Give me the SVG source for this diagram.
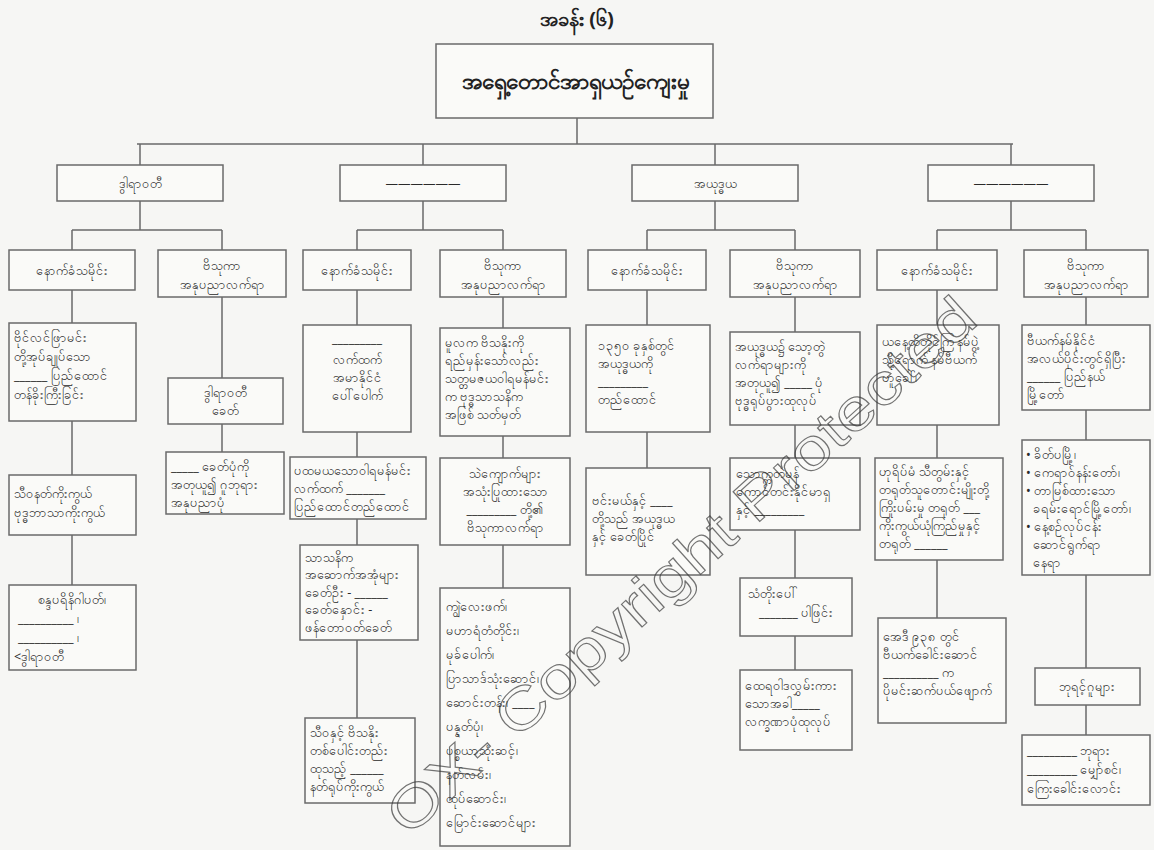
<svg xmlns="http://www.w3.org/2000/svg" width="1154" height="850" viewBox="0 0 1154 850">
<style>
.bg{fill:#f6f6f4}
.box{fill:#fafaf8;stroke:#6a6a6a;stroke-width:1.5}
.c{fill:none;stroke:#6a6a6a;stroke-width:1.5}
.t{font-family:"Noto Sans","DejaVu Sans",sans-serif;font-size:12.5px;fill:#2a2a2a;text-anchor:middle}
.l{text-anchor:start}
.ttl{font-family:"Noto Sans","DejaVu Sans",sans-serif;font-size:20px;font-weight:bold;fill:#222;text-anchor:middle}
.root{font-family:"Noto Sans","DejaVu Sans",sans-serif;font-size:22.5px;font-weight:bold;fill:#222;text-anchor:middle}
.wm{font-family:"Liberation Sans",sans-serif;font-size:58px;fill:none;stroke:#3a3a3a;stroke-width:1.1;opacity:0.7}
</style>
<rect class="bg" x="0" y="0" width="1154" height="850"/>
<text class="ttl" x="577" y="26">အခန်း (၆)</text>

<g id="connectors">
<path class="c" d="M577,118V144M137,144H1013M140,144V165M423,144V165M715,144V165M1011,144V165"/>
<path class="c" d="M140,201V230M72,230H222M72,230V250M222,230V250"/>
<path class="c" d="M423,201V230M357,230H503M357,230V250M503,230V250"/>
<path class="c" d="M715,201V230M647,230H795M647,230V250M795,230V250"/>
<path class="c" d="M1011,201V230M937,230H1086M937,230V250M1086,230V250"/>
<path class="c" d="M72,290V323M72,421V475M72,535V585"/>
<path class="c" d="M222,297V378M222,424V452"/>
<path class="c" d="M357,290V325M357,432V457M357,519V545M357,640V718"/>
<path class="c" d="M503,297V328M503,436V458M503,545V588"/>
<path class="c" d="M647,290V325M647,432V468"/>
<path class="c" d="M795,297V332M795,425V458M795,530V578M795,636V670"/>
<path class="c" d="M937,290V325M937,425V458M937,560V618"/>
<path class="c" d="M1086,297V325M1086,410V440M1086,575V668M1086,705V735"/>
</g>

<g id="root"><rect class="box" x="436" y="44" width="277" height="74"/><text class="root" x="575" y="89">အရှေ့တောင်အာရှယဉ်ကျေးမှု</text></g>

<g id="l2a"><rect class="box" x="57" y="165" width="166" height="36"/><text class="t" x="140" y="188">ဒွါရာဝတီ</text></g>
<g id="l2b"><rect class="box" x="340" y="165" width="166" height="36"/><text class="t" x="423" y="188">——————</text></g>
<g id="l2c"><rect class="box" x="632" y="165" width="166" height="36"/><text class="t" x="715" y="188">အယုဒ္ဓယ</text></g>
<g id="l2d"><rect class="box" x="928" y="165" width="166" height="36"/><text class="t" x="1011" y="188">——————</text></g>

<g id="c1h"><rect class="box" x="9" y="250" width="126" height="40"/><text class="t" x="72" y="275">နောက်ခံသမိုင်း</text></g>
<g id="c1b2"><rect class="box" x="9" y="323" width="127" height="98"/>
<text class="t l" x="14" y="342">ဗိုင်လင်ဖြာမင်း</text><text class="t l" x="14" y="361">တို့အုပ်ချုပ်သော</text><text class="t l" x="14" y="380">______ ပြည်ထောင်</text><text class="t l" x="14" y="399">တန်ခိုးကြီးခြင်း</text></g>
<g id="c1b3"><rect class="box" x="9" y="475" width="127" height="60"/>
<text class="t l" x="14" y="498">သီဝနတ်ကိုးကွယ်</text><text class="t l" x="14" y="517">ဗုဒ္ဓဘာသာကိုးကွယ်</text></g>
<g id="c1b4"><rect class="box" x="9" y="585" width="127" height="85"/>
<text class="t" x="72" y="604">စန္ဒပရိနိဂါပတ်၊</text><text class="t l" x="18" y="623">__________ ၊</text><text class="t l" x="18" y="642">__________ ၊</text><text class="t l" x="14" y="661">&lt;ဒွါရာဝတီ</text></g>

<g id="c2h"><rect class="box" x="158" y="250" width="128" height="47"/><text class="t" x="222" y="270">ဗိသုကာ</text><text class="t" x="222" y="289">အနုပညာလက်ရာ</text></g>
<g id="c2b2"><rect class="box" x="168" y="378" width="115" height="46"/><text class="t" x="225" y="397">ဒွါရာဝတီ</text><text class="t" x="225" y="415">ခေတ်</text></g>
<g id="c2b3"><rect class="box" x="166" y="452" width="118" height="62"/>
<text class="t l" x="171" y="471">_____ ခေတ်ပုံကို</text><text class="t l" x="171" y="489">အတုယူ၍ ဂူဘုရား</text><text class="t l" x="171" y="507">အနုပညာပုံ</text></g>

<g id="c3h"><rect class="box" x="303" y="250" width="108" height="40"/><text class="t" x="357" y="275">နောက်ခံသမိုင်း</text></g>
<g id="c3b2"><rect class="box" x="303" y="325" width="108" height="107"/>
<text class="t" x="357" y="343">_________</text><text class="t" x="357" y="364">လက်ထက်</text><text class="t" x="357" y="382">အမာနိုင်ငံ</text><text class="t" x="357" y="400">ပေါ်ပေါက်</text></g>
<g id="c3b3"><rect class="box" x="290" y="457" width="136" height="62"/>
<text class="t l" x="294" y="475">ပထမယသောဝါရမန်မင်း</text><text class="t l" x="294" y="493">လက်ထက် _______</text><text class="t l" x="294" y="511">ပြည်ထောင်တည်ထောင်</text></g>
<g id="c3b4"><rect class="box" x="300" y="545" width="118" height="95"/>
<text class="t l" x="305" y="562">သာသနိက</text><text class="t l" x="305" y="579">အဆောက်အအုံများ</text><text class="t l" x="305" y="597">ခေတ်ဦး - ______</text><text class="t l" x="305" y="614">ခေတ်နှောင်း -</text><text class="t l" x="305" y="632">ဖန်တောဝတ်ခေတ်</text></g>
<g id="c3b5"><rect class="box" x="305" y="718" width="110" height="85"/>
<text class="t l" x="310" y="737">သီဝနှင့် ဗိသနိုး</text><text class="t l" x="310" y="755">တစ်ပေါင်းတည်း</text><text class="t l" x="310" y="773">ထုသည့် ______</text><text class="t l" x="310" y="791">နတ်ရုပ်ကိုးကွယ်</text></g>

<g id="c4h"><rect class="box" x="440" y="250" width="126" height="47"/><text class="t" x="503" y="270">ဗိသုကာ</text><text class="t" x="503" y="289">အနုပညာလက်ရာ</text></g>
<g id="c4b2"><rect class="box" x="440" y="328" width="130" height="108"/>
<text class="t l" x="445" y="347">မူလက ဗိသနိုးကို</text><text class="t l" x="445" y="365">ရည်မှန်းသော်လည်း</text><text class="t l" x="445" y="383">သတ္တမဇယဝါရမန်မင်း</text><text class="t l" x="445" y="401">က ဗုဒ္ဓသာသနိက</text><text class="t l" x="445" y="419">အဖြစ် သတ်မှတ်</text></g>
<g id="c4b3"><rect class="box" x="440" y="458" width="130" height="87"/>
<text class="t" x="505" y="478">သဲကျောက်များ</text><text class="t" x="505" y="496">အသုံးပြုထားသော</text><text class="t" x="505" y="514">_________ တို့၏</text><text class="t" x="505" y="532">ဗိသုကာလက်ရာ</text></g>
<g id="c4b4"><rect class="box" x="440" y="588" width="130" height="258"/>
<text class="t l" x="446" y="611">ကျွဲလေးဖက်၊</text><text class="t l" x="446" y="635">မဟာရံတံတိုင်း၊</text><text class="t l" x="446" y="659">မုခ်ပေါက်၊</text><text class="t l" x="446" y="683">ပြာသာဒ်သုံးဆောင်၊</text><text class="t l" x="446" y="707">ဆောင်းတန်း၊ ____</text><text class="t l" x="446" y="731">ပန္နတ်ပုံ၊</text><text class="t l" x="446" y="755">ပစ္စယာသုံးဆင့်၊</text><text class="t l" x="446" y="779">နတ်လမ်း၊</text><text class="t l" x="446" y="803">ထုပ်ဆောင်း၊</text><text class="t l" x="446" y="827">မြောင်းဆောင်များ</text></g>

<g id="c5h"><rect class="box" x="588" y="250" width="118" height="40"/><text class="t" x="647" y="275">နောက်ခံသမိုင်း</text></g>
<g id="c5b2"><rect class="box" x="586" y="325" width="124" height="107"/>
<text class="t l" x="598" y="350">၁၃၅၀ ခုနှစ်တွင်</text><text class="t l" x="598" y="368">အယုဒ္ဓယကို</text><text class="t l" x="598" y="386">_________</text><text class="t l" x="598" y="404">တည်ထောင်</text></g>
<g id="c5b3"><rect class="box" x="586" y="468" width="124" height="107"/>
<text class="t l" x="592" y="505">ဗင်းမယ်နှင့် ____</text><text class="t l" x="592" y="523">တို့သည် အယုဒ္ဓယ</text><text class="t l" x="592" y="541">နှင့် ခေတ်ပြိုင်</text></g>

<g id="c6h"><rect class="box" x="730" y="250" width="130" height="47"/><text class="t" x="795" y="270">ဗိသုကာ</text><text class="t" x="795" y="289">အနုပညာလက်ရာ</text></g>
<g id="c6b2"><rect class="box" x="730" y="332" width="130" height="93"/>
<text class="t l" x="735" y="351">အယုဒ္ဓယ၌ သော့တွဲ</text><text class="t l" x="735" y="369">လက်ရာများကို</text><text class="t l" x="735" y="387">အတုယူ၍ _____ ပုံ</text><text class="t l" x="735" y="405">ဗုဒ္ဓရုပ်ပွားထုလုပ်</text></g>
<g id="c6b3"><rect class="box" x="730" y="458" width="130" height="72"/>
<text class="t l" x="736" y="478">သောက္ကတဲမှန်</text><text class="t l" x="736" y="496">ကောင်တင်းနိုင်မာရှ</text><text class="t l" x="736" y="514">နှင့် _________</text></g>
<g id="c6b4"><rect class="box" x="740" y="578" width="112" height="58"/>
<text class="t l" x="748" y="598">သံတိုးပေါ်</text><text class="t" x="796" y="617">_______ ပါဖြင်း</text></g>
<g id="c6b5"><rect class="box" x="740" y="670" width="112" height="80"/>
<text class="t l" x="745" y="690">ထေရဝါဒလွှမ်းကား</text><text class="t l" x="745" y="708">သောအခါ_____</text><text class="t l" x="745" y="726">လက္ခဏာပုံထုလုပ်</text></g>

<g id="c7h"><rect class="box" x="877" y="250" width="120" height="40"/><text class="t" x="937" y="275">နောက်ခံသမိုင်း</text></g>
<g id="c7b2"><rect class="box" x="877" y="325" width="122" height="100"/>
<text class="t l" x="882" y="346">ယနေ့ထိတိုင်ကြ နမ်ပွဲ့</text><text class="t l" x="882" y="364">သို့ရောက် နမ်ဗီယက်</text><text class="t l" x="882" y="382">ဟူခေါ်၊</text></g>
<g id="c7b3"><rect class="box" x="875" y="458" width="128" height="102"/>
<text class="t l" x="879" y="476">ဟုရိပ်မံ သီတွမ်းနှင့်</text><text class="t l" x="879" y="494">တရုတ်သူတောင်းမျိုးတို့</text><text class="t l" x="879" y="512">ကြိုးပမ်းမှု တရုတ် ___</text><text class="t l" x="879" y="530">ကိုးကွယ်ယုံကြည်မှုနှင့်</text><text class="t l" x="879" y="548">တရုတ် ______</text></g>
<g id="c7b4"><rect class="box" x="878" y="618" width="128" height="105"/>
<text class="t l" x="883" y="641">အေဒီ ၉၃၈ တွင်</text><text class="t l" x="883" y="659">ဗီယက်ခေါင်းဆောင်</text><text class="t l" x="883" y="677">__________ က</text><text class="t l" x="883" y="695">ပိုမင်းဆက်ပယ်ဖျောက်</text></g>

<g id="c8h"><rect class="box" x="1024" y="250" width="124" height="47"/><text class="t" x="1086" y="270">ဗိသုကာ</text><text class="t" x="1086" y="289">အနုပညာလက်ရာ</text></g>
<g id="c8b2"><rect class="box" x="1022" y="325" width="128" height="85"/>
<text class="t l" x="1027" y="345">ဗီယက်နမ်နိုင်ငံ</text><text class="t l" x="1027" y="363">အလယ်ပိုင်းတွင်ရှိပြီး</text><text class="t l" x="1027" y="381">______ ပြည်နယ်</text><text class="t l" x="1027" y="399">မြို့တော်</text></g>
<g id="c8b3"><rect class="box" x="1022" y="440" width="128" height="135"/>
<text class="t l" x="1026" y="459">• ခိတ်ပမြို့၊</text><text class="t l" x="1026" y="477">• ကေရာဝ်နန်းတော်၊</text><text class="t l" x="1026" y="495">• တာမြစ်ထားသော</text><text class="t l" x="1033" y="513">ခရမ်းရောင်မြို့တော်၊</text><text class="t l" x="1026" y="531">• နေ့စဉ်လုပ်ငန်း</text><text class="t l" x="1033" y="549">ဆောင်ရွက်ရာ</text><text class="t l" x="1033" y="567">နေရာ</text></g>
<g id="c8b4"><rect class="box" x="1035" y="668" width="105" height="37"/><text class="t" x="1087" y="691">ဘုရင့်ဂူများ</text></g>
<g id="c8b5"><rect class="box" x="1022" y="735" width="128" height="70"/>
<text class="t l" x="1027" y="755">_________ ဘုရား</text><text class="t l" x="1027" y="774">_________ မျှော်စင်၊</text><text class="t l" x="1027" y="793">ကြေးခေါင်းလောင်း</text></g>

<text class="wm" x="408" y="838" transform="rotate(-42 408 838)" textLength="770" lengthAdjust="spacingAndGlyphs">OX- Copyright Protected</text>
</svg>
